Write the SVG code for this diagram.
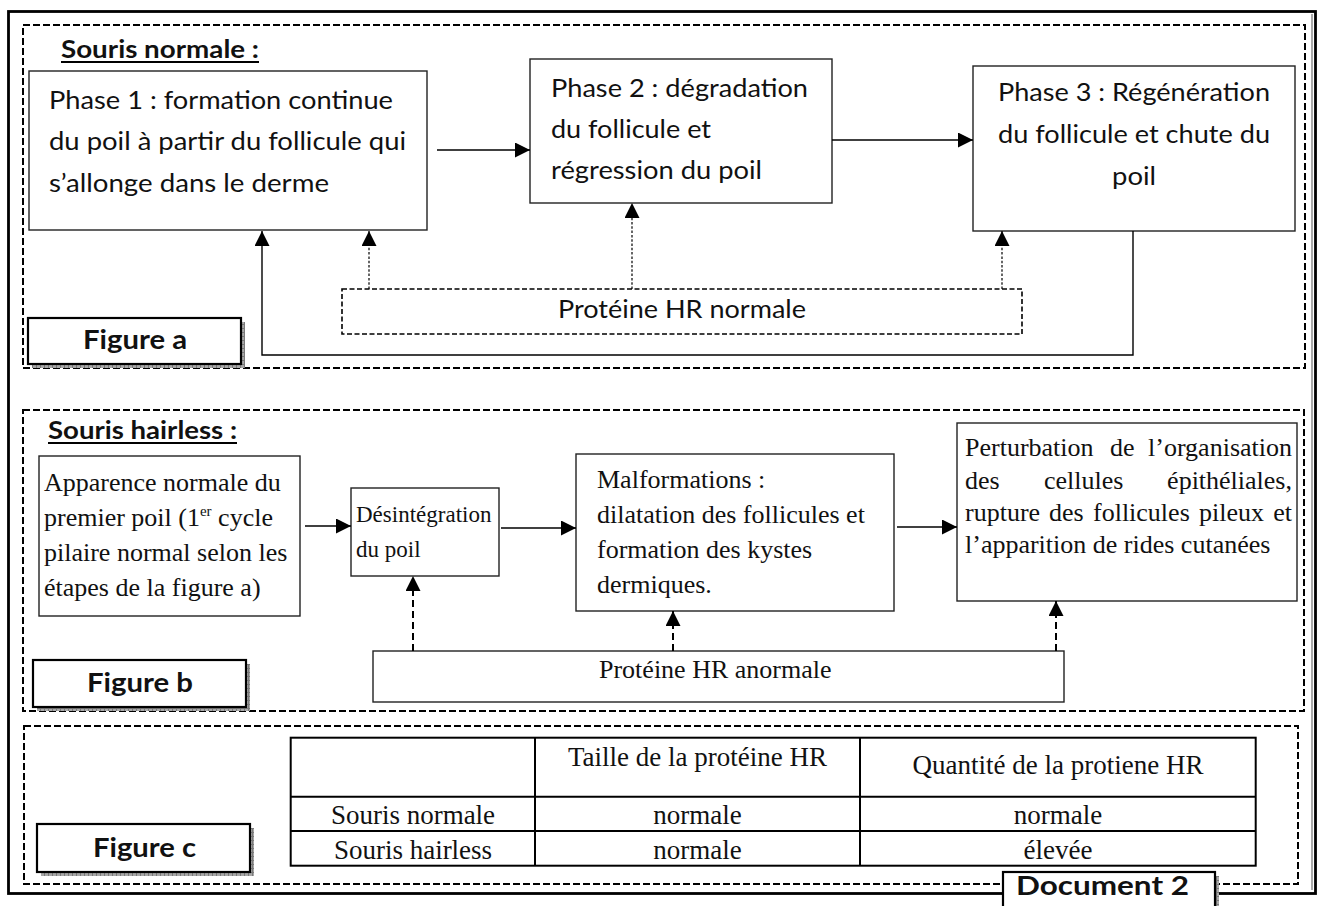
<svg xmlns="http://www.w3.org/2000/svg" width="1322" height="906" viewBox="0 0 1322 906">
<defs>
<marker id="ah" markerUnits="userSpaceOnUse" markerWidth="15" markerHeight="15" refX="15" refY="7.5" orient="auto"><path d="M0,0 L15,7.5 L0,15 z" fill="#000"/></marker>
<pattern id="shade" width="4" height="4" patternUnits="userSpaceOnUse"><rect width="4" height="4" fill="#a8a8a8"/><path d="M0,0.5H4M0.5,0V4" stroke="#7a7a7a" stroke-width="1"/></pattern>
</defs>
<style>
.sans{font-family:Lato,'Open Sans','Liberation Sans',sans-serif;fill:#111}
.b{font-weight:bold}
.serif{font-family:'Liberation Serif','Times New Roman',serif;fill:#111}
.box{fill:#fff;stroke:#222;stroke-width:1.4}
.frame{fill:none;stroke:#000;stroke-width:2;stroke-dasharray:7 3}
.lbl{fill:#fff;stroke:#000;stroke-width:2.2}
.shadow{fill:url(#shade)}
.solid{fill:none;stroke:#000;stroke-width:1.4}
.dot{fill:none;stroke:#000;stroke-width:1.2;stroke-dasharray:2.5 1.8}
.dash{fill:none;stroke:#000;stroke-width:2;stroke-dasharray:7 4}
.tbl{fill:none;stroke:#000;stroke-width:2}
.ul{stroke:#000;stroke-width:1.8}
</style>
<rect width="1322" height="906" fill="#fff"/>

<!-- outer border -->
<rect x="8.5" y="11.5" width="1307" height="882" fill="none" stroke="#000" stroke-width="2.8"/>
<line x1="1312" y1="14" x2="1312" y2="890" stroke="#555" stroke-width="1"/>

<!-- section frames -->
<g id="frame-a"><rect class="frame" x="23" y="25" width="1282" height="343"/></g>
<g id="frame-b"><rect class="frame" x="23" y="410" width="1281" height="301"/></g>
<g id="frame-c"><rect class="frame" x="24" y="726" width="1274" height="158"/></g>

<!-- Figure a -->
<g id="title-a">
<text class="sans b" font-size="24" x="61" y="58" textLength="198" lengthAdjust="spacingAndGlyphs">Souris normale :</text>
<line class="ul" x1="61" y1="62" x2="259" y2="62"/>
</g>
<g id="phase1">
<rect class="box" x="29" y="71" width="398" height="159"/>
<text class="sans" font-size="24.5" x="49" y="108.5" textLength="344" lengthAdjust="spacingAndGlyphs">Phase 1 : formation continue</text>
<text class="sans" font-size="24.5" x="49" y="149.5" textLength="357" lengthAdjust="spacingAndGlyphs">du poil à partir du follicule qui</text>
<text class="sans" font-size="24.5" x="49" y="191.5" textLength="280" lengthAdjust="spacingAndGlyphs">s’allonge dans le derme</text>
</g>
<g id="phase2">
<rect class="box" x="530" y="59" width="302" height="144"/>
<text class="sans" font-size="24.5" x="551" y="96.5" textLength="257" lengthAdjust="spacingAndGlyphs">Phase 2 : dégradation</text>
<text class="sans" font-size="24.5" x="551" y="137.5" textLength="160" lengthAdjust="spacingAndGlyphs">du follicule et</text>
<text class="sans" font-size="24.5" x="551" y="179" textLength="211" lengthAdjust="spacingAndGlyphs">régression du poil</text>
</g>
<g id="phase3">
<rect class="box" x="973" y="66" width="322" height="165"/>
<text class="sans" font-size="24.5" x="998" y="101" textLength="272" lengthAdjust="spacingAndGlyphs">Phase 3 : Régénération</text>
<text class="sans" font-size="24.5" x="998" y="143" textLength="272" lengthAdjust="spacingAndGlyphs">du follicule et chute du</text>
<text class="sans" font-size="24.5" x="1112" y="185" textLength="44" lengthAdjust="spacingAndGlyphs">poil</text>
</g>
<g id="hr-normale">
<rect x="342" y="289" width="680" height="45" fill="#fff" stroke="#000" stroke-width="1.6" stroke-dasharray="5 2.5"/>
<text class="sans" font-size="24.5" x="558" y="318" textLength="248" lengthAdjust="spacingAndGlyphs">Protéine HR normale</text>
</g>
<g id="label-a">
<rect class="shadow" x="32" y="322" width="213" height="46"/>
<rect class="lbl" x="28" y="318" width="213" height="46"/>
<text class="sans b" font-size="26" x="83" y="349" textLength="104" lengthAdjust="spacingAndGlyphs">Figure a</text>
</g>

<!-- Figure b -->
<g id="title-b">
<text class="sans b" font-size="24" x="48" y="439" textLength="189" lengthAdjust="spacingAndGlyphs">Souris hairless :</text>
<line class="ul" x1="48" y1="443" x2="237" y2="443"/>
</g>
<g id="apparence">
<rect class="box" x="39" y="456" width="261" height="160"/>
<text class="serif" font-size="26" x="44" y="490.7">Apparence normale du</text>
<text class="serif" font-size="26" x="44" y="526">premier poil (1<tspan font-size="15" dy="-10">er</tspan><tspan dy="10"> cycle</tspan></text>
<text class="serif" font-size="26" x="44" y="560.5">pilaire normal selon les</text>
<text class="serif" font-size="26" x="44" y="595.7">étapes de la figure a)</text>
</g>
<g id="desintegration">
<rect class="box" x="351" y="488" width="148" height="88"/>
<text class="serif" font-size="23" x="356" y="521.7">Désintégration</text>
<text class="serif" font-size="23" x="356" y="556.7">du poil</text>
</g>
<g id="malformations">
<rect class="box" x="576" y="454" width="318" height="157"/>
<text class="serif" font-size="26" x="597" y="488">Malformations :</text>
<text class="serif" font-size="26" x="597" y="522.7">dilatation des follicules et</text>
<text class="serif" font-size="26" x="597" y="557.7">formation des kystes</text>
<text class="serif" font-size="26" x="597" y="593.3">dermiques.</text>
</g>
<g id="perturbation">
<rect class="box" x="957" y="423" width="340" height="178"/>
<text class="serif" font-size="26" y="456"><tspan x="965">Perturbation</tspan><tspan x="1110">de</tspan></text>
<text class="serif" font-size="26" x="1292" y="456" text-anchor="end">l’organisation</text>
<text class="serif" font-size="26" y="489"><tspan x="965">des</tspan><tspan x="1044">cellules</tspan></text>
<text class="serif" font-size="26" x="1292" y="489" text-anchor="end">épithéliales,</text>
<text class="serif" font-size="26" y="521"><tspan x="965">rupture</tspan><tspan x="1049">des</tspan><tspan x="1093">follicules</tspan><tspan x="1199">pileux</tspan></text>
<text class="serif" font-size="26" x="1292" y="521" text-anchor="end">et</text>
<text class="serif" font-size="26" x="965" y="553">l’apparition de rides cutanées</text>
</g>
<g id="hr-anormale">
<rect class="box" x="373" y="651" width="691" height="51"/>
<text class="serif" font-size="26" x="599" y="678">Protéine HR anormale</text>
</g>
<g id="label-b">
<rect class="shadow" x="37" y="664" width="213" height="47"/>
<rect class="lbl" x="33" y="660" width="213" height="47"/>
<text class="sans b" font-size="26" x="87" y="692" textLength="106" lengthAdjust="spacingAndGlyphs">Figure b</text>
</g>

<!-- Figure c -->
<g id="table">
<rect class="tbl" x="290.7" y="737.7" width="965" height="128"/>
<line class="tbl" x1="290.7" y1="796.7" x2="1255.7" y2="796.7"/>
<line class="tbl" x1="290.7" y1="831" x2="1255.7" y2="831"/>
<line class="tbl" x1="535" y1="737.7" x2="535" y2="865.7"/>
<line class="tbl" x1="860" y1="737.7" x2="860" y2="865.7"/>
<g class="serif" font-size="27" text-anchor="middle">
<text x="697.5" y="766">Taille de la protéine HR</text>
<text x="1058" y="774">Quantité de la protiene HR</text>
<text x="413" y="824">Souris normale</text>
<text x="697.5" y="824">normale</text>
<text x="1058" y="824">normale</text>
<text x="413" y="858.5">Souris hairless</text>
<text x="697.5" y="858.5">normale</text>
<text x="1058" y="858.5">élevée</text>
</g>
</g>
<g id="label-c">
<rect class="shadow" x="41" y="828" width="213" height="48"/>
<rect class="lbl" x="37" y="824" width="213" height="48"/>
<text class="sans b" font-size="26" x="93" y="857" textLength="103" lengthAdjust="spacingAndGlyphs">Figure c</text>
</g>
<g id="document-2">
<rect class="shadow" x="1007" y="876" width="212" height="40"/>
<rect class="lbl" x="1003" y="872" width="212" height="40"/>
<text class="sans b" font-size="26" x="1016" y="895" textLength="173" lengthAdjust="spacingAndGlyphs">Document 2</text>
</g>

<!-- connectors -->
<g id="connectors">
<line class="solid" x1="437" y1="150" x2="530" y2="150" marker-end="url(#ah)"/>
<line class="solid" x1="832" y1="140" x2="973" y2="140" marker-end="url(#ah)"/>
<polyline class="solid" points="1133,231 1133,355 262,355 262,231" marker-end="url(#ah)"/>
<line class="dot" x1="369" y1="289" x2="369" y2="231" marker-end="url(#ah)"/>
<line class="dot" x1="632" y1="289" x2="632" y2="203" marker-end="url(#ah)"/>
<line class="dot" x1="1002" y1="289" x2="1002" y2="231" marker-end="url(#ah)"/>
<line class="solid" x1="305" y1="526" x2="351" y2="526" marker-end="url(#ah)"/>
<line class="solid" x1="501" y1="528" x2="576" y2="528" marker-end="url(#ah)"/>
<line class="solid" x1="897" y1="527" x2="957" y2="527" marker-end="url(#ah)"/>
<line class="dash" x1="413" y1="651" x2="413" y2="576" marker-end="url(#ah)"/>
<line class="dash" x1="673" y1="651" x2="673" y2="611" marker-end="url(#ah)"/>
<line class="dash" x1="1056" y1="651" x2="1056" y2="601" marker-end="url(#ah)"/>
</g>
</svg>
